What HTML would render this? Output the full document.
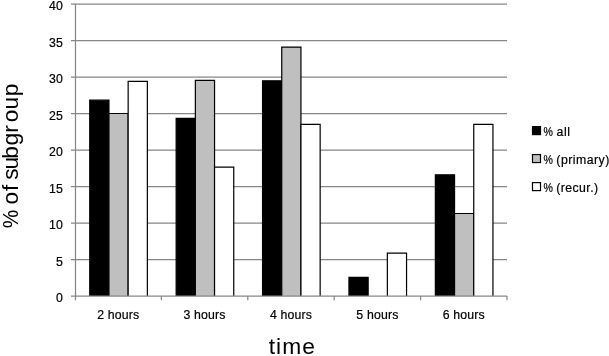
<!DOCTYPE html>
<html><head><meta charset="utf-8"><style>
html,body{margin:0;padding:0;background:#fff;}
body{width:609px;height:356px;overflow:hidden;}
svg{display:block;will-change:transform;}
.t{font-family:"Liberation Sans",sans-serif;font-size:12.3px;letter-spacing:0.15px;fill:#000;stroke:#000;stroke-width:0.2px;}
.ti{font-family:"Liberation Sans",sans-serif;font-size:22.8px;fill:#000;}
</style></head><body>
<svg width="609" height="356" viewBox="0 0 609 356">
<rect width="609" height="356" fill="#fff"/>
<line x1="71" y1="259.50" x2="507.0" y2="259.50" stroke="#868686" stroke-width="1.25"/>
<line x1="71" y1="223.00" x2="507.0" y2="223.00" stroke="#868686" stroke-width="1.25"/>
<line x1="71" y1="186.50" x2="507.0" y2="186.50" stroke="#868686" stroke-width="1.25"/>
<line x1="71" y1="150.00" x2="507.0" y2="150.00" stroke="#868686" stroke-width="1.25"/>
<line x1="71" y1="113.50" x2="507.0" y2="113.50" stroke="#868686" stroke-width="1.25"/>
<line x1="71" y1="77.00" x2="507.0" y2="77.00" stroke="#868686" stroke-width="1.25"/>
<line x1="71" y1="40.50" x2="507.0" y2="40.50" stroke="#868686" stroke-width="1.25"/>
<line x1="71" y1="4.20" x2="507.0" y2="4.20" stroke="#868686" stroke-width="1.25"/>
<path d="M89.75 296.0V100.21H108.95V296.0Z" fill="#000000"/>
<path d="M89.75 296.0V100.21H108.95V296.0" fill="none" stroke="#000000" stroke-width="1.2"/>
<path d="M108.95 296.0V113.50H128.15V296.0Z" fill="#bfbfbf"/>
<path d="M108.95 296.0V113.50H128.15V296.0" fill="none" stroke="#000000" stroke-width="1.2"/>
<path d="M128.15 296.0V81.38H147.35V296.0Z" fill="#ffffff"/>
<path d="M128.15 296.0V81.38H147.35V296.0" fill="none" stroke="#000000" stroke-width="1.2"/>
<path d="M176.15 296.0V118.46H195.35V296.0Z" fill="#000000"/>
<path d="M176.15 296.0V118.46H195.35V296.0" fill="none" stroke="#000000" stroke-width="1.2"/>
<path d="M195.35 296.0V80.28H214.55V296.0Z" fill="#bfbfbf"/>
<path d="M195.35 296.0V80.28H214.55V296.0" fill="none" stroke="#000000" stroke-width="1.2"/>
<path d="M214.55 296.0V167.08H233.75V296.0Z" fill="#ffffff"/>
<path d="M214.55 296.0V167.08H233.75V296.0" fill="none" stroke="#000000" stroke-width="1.2"/>
<path d="M262.55 296.0V80.87H281.75V296.0Z" fill="#000000"/>
<path d="M262.55 296.0V80.87H281.75V296.0" fill="none" stroke="#000000" stroke-width="1.2"/>
<path d="M281.75 296.0V47.07H300.95V296.0Z" fill="#bfbfbf"/>
<path d="M281.75 296.0V47.07H300.95V296.0" fill="none" stroke="#000000" stroke-width="1.2"/>
<path d="M300.95 296.0V124.45H320.15V296.0Z" fill="#ffffff"/>
<path d="M300.95 296.0V124.45H320.15V296.0" fill="none" stroke="#000000" stroke-width="1.2"/>
<path d="M348.95 296.0V277.31H368.15V296.0Z" fill="#000000"/>
<path d="M348.95 296.0V277.31H368.15V296.0" fill="none" stroke="#000000" stroke-width="1.2"/>
<path d="M387.35 296.0V253.08H406.55V296.0Z" fill="#ffffff"/>
<path d="M387.35 296.0V253.08H406.55V296.0" fill="none" stroke="#000000" stroke-width="1.2"/>
<path d="M435.35 296.0V174.82H454.55V296.0Z" fill="#000000"/>
<path d="M435.35 296.0V174.82H454.55V296.0" fill="none" stroke="#000000" stroke-width="1.2"/>
<path d="M454.55 296.0V213.51H473.75V296.0Z" fill="#bfbfbf"/>
<path d="M454.55 296.0V213.51H473.75V296.0" fill="none" stroke="#000000" stroke-width="1.2"/>
<path d="M473.75 296.0V124.45H492.95V296.0Z" fill="#ffffff"/>
<path d="M473.75 296.0V124.45H492.95V296.0" fill="none" stroke="#000000" stroke-width="1.2"/>
<line x1="71" y1="296.0" x2="507.0" y2="296.0" stroke="#868686" stroke-width="1.25"/>
<line x1="75.5" y1="4" x2="75.5" y2="300.2" stroke="#868686" stroke-width="1.25"/>
<line x1="161.40" y1="296.0" x2="161.40" y2="300.2" stroke="#868686" stroke-width="1.25"/>
<line x1="247.80" y1="296.0" x2="247.80" y2="300.2" stroke="#868686" stroke-width="1.25"/>
<line x1="334.20" y1="296.0" x2="334.20" y2="300.2" stroke="#868686" stroke-width="1.25"/>
<line x1="420.60" y1="296.0" x2="420.60" y2="300.2" stroke="#868686" stroke-width="1.25"/>
<line x1="507.00" y1="296.0" x2="507.00" y2="300.2" stroke="#868686" stroke-width="1.25"/>
<text x="63" y="302.10" text-anchor="end" class="t">0</text>
<text x="63" y="265.60" text-anchor="end" class="t">5</text>
<text x="63" y="229.10" text-anchor="end" class="t">10</text>
<text x="63" y="192.60" text-anchor="end" class="t">15</text>
<text x="63" y="156.10" text-anchor="end" class="t">20</text>
<text x="63" y="119.60" text-anchor="end" class="t">25</text>
<text x="63" y="83.10" text-anchor="end" class="t">30</text>
<text x="63" y="46.60" text-anchor="end" class="t">35</text>
<text x="63" y="10.10" text-anchor="end" class="t">40</text>
<text x="118.20" y="318.7" text-anchor="middle" class="t">2 hours</text>
<text x="204.60" y="318.7" text-anchor="middle" class="t">3 hours</text>
<text x="291.00" y="318.7" text-anchor="middle" class="t">4 hours</text>
<text x="377.40" y="318.7" text-anchor="middle" class="t">5 hours</text>
<text x="463.80" y="318.7" text-anchor="middle" class="t">6 hours</text>
<text x="292.3" y="353.7" text-anchor="middle" class="ti" style="letter-spacing:1px">time</text>
<text transform="translate(18.4,0) rotate(-90)" x="-179.66 -169.57 -158.65 -145.38 -132.66 -122.29 -109.47 -96.25" y="0" class="ti">subgroup</text>
<text transform="translate(18.4,219.1) rotate(-90)" x="0" y="0" text-anchor="middle" class="ti" textLength="18.5" lengthAdjust="spacingAndGlyphs">%</text>
<text transform="translate(18.4,194.1) rotate(-90)" x="0" y="0" text-anchor="middle" class="ti" style="letter-spacing:0.8px">of</text>
<rect x="532.5" y="126.60" width="8" height="8" fill="#000000" stroke="#000000" stroke-width="1.2"/>
<text x="543.6" y="135.80" class="t" style="letter-spacing:0" textLength="9.4" lengthAdjust="spacingAndGlyphs">%</text>
<text x="556.5" y="135.80" class="t" style="letter-spacing:0" textLength="13.5" lengthAdjust="spacing">all</text>
<rect x="532.5" y="154.55" width="8" height="8" fill="#bfbfbf" stroke="#000000" stroke-width="1.2"/>
<text x="543.6" y="164.30" class="t" style="letter-spacing:0" textLength="9.4" lengthAdjust="spacingAndGlyphs">%</text>
<text x="556.3" y="164.30" class="t" style="letter-spacing:0" textLength="53.0" lengthAdjust="spacing">(primary)</text>
<rect x="532.5" y="182.60" width="8" height="8" fill="#ffffff" stroke="#000000" stroke-width="1.2"/>
<text x="543.6" y="191.80" class="t" style="letter-spacing:0" textLength="9.4" lengthAdjust="spacingAndGlyphs">%</text>
<text x="556.3" y="191.80" class="t" style="letter-spacing:0" textLength="41.8" lengthAdjust="spacing">(recur.)</text>
</svg>
</body></html>
